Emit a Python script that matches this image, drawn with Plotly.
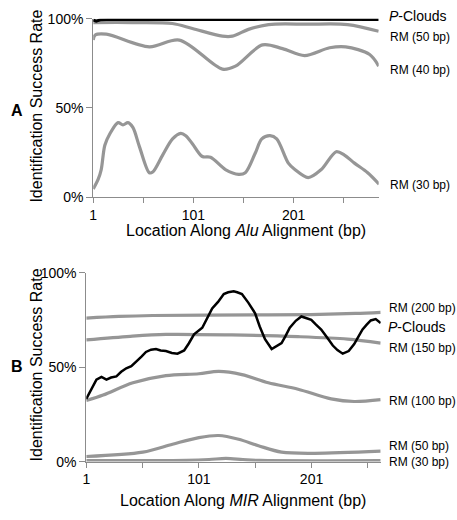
import plotly.graph_objects as go

W, H = 457, 520

# ---------------- Panel A (Alu) ----------------
a_pc_x = [1, 4, 8, 20, 50, 90, 130, 170, 210, 250, 286]
a_pc_y = [99.3, 98.6, 99.4, 99.6, 99.5, 99.7, 99.5, 99.6, 99.5, 99.6, 99.5]

a_rm50_x = [1, 40, 80, 100, 130, 140, 156, 176, 215, 255, 286]
a_rm50_y = [97.8, 97.8, 97.3, 94.5, 90.2, 90.2, 94.0, 96.7, 96.9, 96.7, 92.9]

a_rm40_x = [1, 3, 14, 57, 87, 130, 143, 170, 190, 212, 237, 253, 277, 286]
a_rm40_y = [88.0, 90.8, 91.3, 84.2, 88.0, 71.7, 73.4, 85.3, 83.2, 79.3, 83.7, 84.2, 79.9, 73.4]

a_rm30_x = [1, 6, 9, 12.6, 17.5, 25.8, 30.7, 35.7, 40.6, 47.2, 57, 60.4, 70.3, 80.2, 88.4,
            93.4, 100, 109.9, 118.1, 133, 146.2, 152.8, 162.7, 169.3, 177.5, 184.2, 195.8,
            202.3, 215.6, 228.7, 243.6, 251.8, 261.8, 275, 286.4]
a_rm30_y = [4.5, 10, 15.4, 29, 35.3, 41.7, 40.4, 41.7, 39, 28.1, 13.6, 14, 23.5, 32.6, 35.7,
            34.4, 29.9, 22.7, 22.3, 15.4, 12.7, 13.6, 24.5, 32.6, 34.4, 32.6, 19,
            15.4, 10.9, 15.4, 25.4, 23.5, 19, 13.6, 7.2]

# ---------------- Panel B (MIR) ----------------
b_pc_x = [1, 4.8, 10, 14.5, 18.9, 23, 27.7, 32, 36.5, 41, 45.3, 50, 54, 58.5, 62.9, 67, 71.7, 77,
          82, 87.9, 92, 96.7, 104, 108, 112.8, 118, 123.1, 127, 131.9, 135, 139.2, 145,
          150.9, 155, 159.7, 165.6, 170, 174.4, 178, 181.7, 187, 192, 196, 200.8, 205,
          209.6, 215, 219.9, 224, 228.7, 234, 238.9, 242, 246.3, 250, 253.6, 258, 262.4]
b_pc_y = [33.2, 37.4, 43.4, 44.8, 43.4, 44.5, 45.1, 47.5, 49.4, 50.5, 52.8, 55.5, 58.0, 59.2,
          59.6, 58.8, 58.5, 57.5, 57.1, 58.8, 62.5, 67.3, 70.8, 75.5, 81.0, 84.5, 88.7,
          89.6, 90.1, 89.6, 88.7, 84.0, 78.5, 71.5, 64.8, 59.6, 61.0, 62.7, 66.5, 70.8,
          74.5, 76.8, 76.0, 75.0, 72.5, 69.9, 65.5, 61.4, 59.0, 57.1, 58.5, 62.2, 65.5,
          69.9, 72.5, 74.7, 75.4, 73.3]

b_rm200_x = [1, 30, 60, 150, 200, 240, 262.4]
b_rm200_y = [75.9, 76.8, 77.3, 77.6, 77.8, 78.4, 79.0]

b_rm150_x = [1, 40, 71.7, 130, 189, 233, 262.4]
b_rm150_y = [64.4, 66.3, 67.3, 67.0, 66.1, 64.8, 62.7]

b_rm100_x = [1, 16, 42.4, 71.7, 101, 118.7, 139.2, 162.7, 189.1, 218.4, 238.9, 262.4]
b_rm100_y = [32.3, 35.2, 41.7, 45.5, 46.5, 47.7, 46.0, 41.7, 38.3, 33.2, 31.8, 32.8]

b_rm50_x = [1, 51.2, 77.6, 101, 118.7, 136.3, 153.9, 174.4, 203.7, 262.4]
b_rm50_y = [2.7, 5.0, 9.2, 12.7, 13.8, 11.8, 8.4, 5.0, 4.4, 5.5]

b_rm30_x = [1, 90, 110, 125, 140, 155, 262.4]
b_rm30_y = [0.5, 0.7, 1.1, 1.7, 1.1, 0.6, 0.5]

x_tickvals = [1, 51, 101, 151, 201, 251]
x_ticktext = ["1", "", "101", "", "201", ""]
y_tickvals = [0, 50, 100]
y_ticktext = ["0%", "50%", "100%"]

GRAY = "rgb(150,150,150)"
AXC = "rgb(140,140,140)"
FONT = "Liberation Sans, Arial, sans-serif"

fig = go.Figure()

def add(x, y, color, width, axes, shape="spline"):
    fig.add_trace(go.Scatter(x=x, y=y, mode="lines", xaxis=axes[0], yaxis=axes[1],
                             line=dict(color=color, width=width, shape=shape, smoothing=0.9),
                             showlegend=False, hoverinfo="skip"))

add(a_rm50_x, a_rm50_y, GRAY, 3.2, ("x", "y"))
add(a_rm40_x, a_rm40_y, GRAY, 3.2, ("x", "y"))
add(a_rm30_x, a_rm30_y, GRAY, 3.2, ("x", "y"))
add(a_pc_x, a_pc_y, "black", 3, ("x", "y"), shape="linear")

add(b_rm200_x, b_rm200_y, GRAY, 3.2, ("x2", "y2"))
add(b_rm150_x, b_rm150_y, GRAY, 3.2, ("x2", "y2"))
add(b_rm100_x, b_rm100_y, GRAY, 3.2, ("x2", "y2"))
add(b_rm50_x, b_rm50_y, GRAY, 3.2, ("x2", "y2"))
add(b_rm30_x, b_rm30_y, GRAY, 3.2, ("x2", "y2"))
add(b_pc_x, b_pc_y, "black", 2.5, ("x2", "y2"), shape="linear")

def px_x(p):
    return p / W

def px_y(p):
    return 1 - p / H

xa = dict(showline=True, linecolor=AXC, linewidth=1, ticks="outside", ticklen=5,
          tickcolor=AXC, showgrid=False, zeroline=False, tickvals=x_tickvals,
          ticktext=x_ticktext, tickfont=dict(size=14, color="black", family=FONT))
ya = dict(showline=True, linecolor=AXC, linewidth=1, ticks="outside", ticklen=6,
          tickcolor=AXC, showgrid=False, zeroline=False, tickvals=y_tickvals,
          ticktext=y_ticktext, tickfont=dict(size=14, color="black", family=FONT),
          range=[0, 100])

fig.update_layout(
    width=W, height=H, autosize=False,
    margin=dict(l=0, r=0, t=0, b=0),
    paper_bgcolor="white", plot_bgcolor="white",
    font=dict(family=FONT, color="black"),
    xaxis=dict(xa, domain=[px_x(90), px_x(378)], range=[1, 286], anchor="y"),
    yaxis=dict(ya, domain=[px_y(195), px_y(11)], anchor="x"),
    xaxis2=dict(xa, domain=[px_x(83), px_x(380)], range=[1, 262.4], anchor="y2"),
    yaxis2=dict(ya, domain=[px_y(468), px_y(273)], anchor="x2"),
)

anns = []
def label(text, x, y, size=12, xanchor="left", **kw):
    anns.append(dict(text=text, x=px_x(x), y=px_y(y), xref="paper", yref="paper",
                     xanchor=xanchor, yanchor="middle", showarrow=False,
                     font=dict(size=size, color="black", family=FONT), **kw))

# Panel A labels
label("<i>P</i>-Clouds", 386, 8, size=14)
label("RM (50 bp)", 387, 30)
label("RM (40 bp)", 387, 64)
label("RM (30 bp)", 387, 183)
label("Location Along <i>Alu</i> Alignment (bp)", 244, 230, size=16, xanchor="center")
label("Identification Success Rate", 33, 101, size=16, xanchor="center", textangle=-90)
label("<b>A</b>", 13, 106, size=16, xanchor="center")

# Panel B labels
label("RM (200 bp)", 386, 310)
label("<i>P</i>-Clouds", 385, 329, size=14)
label("RM (150 bp)", 386, 351)
label("RM (100 bp)", 386, 405)
label("RM (50 bp)", 386, 452)
label("RM (30 bp)", 386, 468)
label("Location Along <i>MIR</i> Alignment (bp)", 241, 508, size=16, xanchor="center")
label("Identification Success Rate", 33, 368, size=16, xanchor="center", textangle=-90)
label("<b>B</b>", 13, 370, size=16, xanchor="center")

fig.update_layout(annotations=anns)

fig.write_html("out.html", config={"displayModeBar": False},
               post_script="document.body.style.margin='0';document.body.style.overflow='hidden';")
